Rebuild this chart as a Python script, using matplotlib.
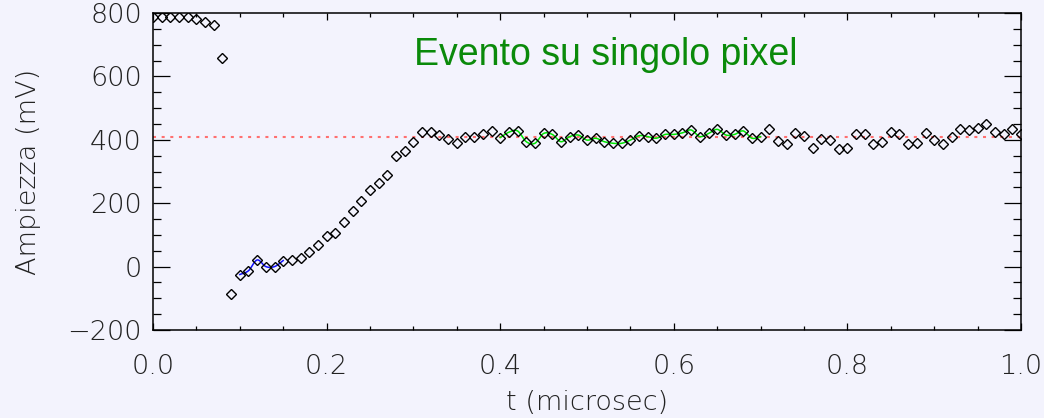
import numpy as np
import matplotlib
matplotlib.use("Agg")
import matplotlib.pyplot as plt
from matplotlib.ticker import MultipleLocator

# Sampling grid (microseconds) and measured amplitudes (mV)
dt = 0.01
amplitude = [
    787, 787, 787, 787, 787, 780, 773, 762, 657, -87,
    -25, -13, 21, 0, 0, 19, 21, 28, 47, 69,
    97, 107, 140, 175, 207, 243, 264, 288, 349, 365,
    394, 425, 425, 415, 401, 391, 410, 410, 418, 429,
    407, 424, 428, 394, 389, 420, 417, 394, 410, 415,
    399, 405, 394, 389, 389, 399, 413, 410, 405, 417,
    417, 422, 431, 410, 420, 433, 415, 417, 428, 405,
    410, 433, 397, 387, 420, 413, 373, 402, 399, 370,
    373, 418, 418, 387, 394, 425, 417, 387, 389, 420,
    399, 387, 410, 433, 431, 436, 450, 424, 417, 433,
    417,
]
t = np.round(np.arange(len(amplitude)) * dt, 2)
amplitude = np.array(amplitude, dtype=float)

baseline_level = 410          # plateau level (mV)
blue_range = (10, 15)         # sample indices of the baseline segment
green_range = (40, 70)        # sample indices of the plateau segment

title_text = "Evento su singolo pixel"
xlabel_text = "t (microsec)"
ylabel_text = "Ampiezza (mV)"


def catmull_rom(x, y, n=12):
    """Smooth curve passing through the given samples."""
    x = np.asarray(x, float)
    y = np.asarray(y, float)
    xp = np.concatenate([[2 * x[0] - x[1]], x, [2 * x[-1] - x[-2]]])
    yp = np.concatenate([[2 * y[0] - y[1]], y, [2 * y[-1] - y[-2]]])
    xs, ys = [], []
    for i in range(1, len(xp) - 2):
        s = np.linspace(0, 1, n, endpoint=False)
        for arr, out in ((xp, xs), (yp, ys)):
            p0, p1, p2, p3 = arr[i - 1], arr[i], arr[i + 1], arr[i + 2]
            out.extend(0.5 * ((2 * p1) + (-p0 + p2) * s
                              + (2 * p0 - 5 * p1 + 4 * p2 - p3) * s ** 2
                              + (-p0 + 3 * p1 - 3 * p2 + p3) * s ** 3))
    xs.append(x[-1])
    ys.append(y[-1])
    return np.array(xs), np.array(ys)


bg = "#f3f3fd"
plt.rcParams["font.family"] = ["DejaVu Sans"]
fig = plt.figure(figsize=(10.44, 4.18), dpi=100, facecolor=bg)
ax = fig.add_axes([153 / 1044, 1 - 330 / 418, 868 / 1044, 317 / 418])
ax.set_facecolor(bg)

ax.set_xlim(0.0, 1.0)
ax.set_ylim(-200, 800)

# plateau reference
ax.axhline(baseline_level, color="#ff7070", lw=1.5, ls=(0, (1.45, 2.7)), zorder=1)

# smoothed segments
for (i0, i1), col in ((blue_range, "#1010ff"), (green_range, "#00e600")):
    sx, sy = catmull_rom(t[i0:i1 + 1], amplitude[i0:i1 + 1])
    ax.plot(sx, sy, color=col, lw=1.1, zorder=2)

ax.plot(t, amplitude, ls="none", marker="D", ms=5.0, mfc="none",
        mec="black", mew=1.0, zorder=3)

# ticks
ax.xaxis.set_major_locator(MultipleLocator(0.2))
ax.xaxis.set_minor_locator(MultipleLocator(0.05))
ax.yaxis.set_major_locator(MultipleLocator(200))
ax.yaxis.set_minor_locator(MultipleLocator(50))
ax.xaxis.set_major_formatter(plt.FuncFormatter(lambda v, p: f"{v:.1f}"))
ax.yaxis.set_major_formatter(plt.FuncFormatter(lambda v, p: f"{v:.0f}".replace("-", "\u2212")))

tick_font = dict(family="DejaVu Sans", weight="light", size=19.5)
ax.tick_params(which="both", direction="in", top=True, right=True,
               color="black", width=0.9)
ax.tick_params(axis="x", which="major", length=5.0, pad=17.5)
ax.tick_params(axis="x", which="minor", length=2.8)
ax.tick_params(axis="y", which="major", length=12.2, pad=8)
ax.tick_params(axis="y", which="minor", length=6.1)
for lab in ax.get_xticklabels() + ax.get_yticklabels():
    lab.set_fontproperties(matplotlib.font_manager.FontProperties(**tick_font))
    lab.set_color("#222222")

for sp in ax.spines.values():
    sp.set_linewidth(1.1)
    sp.set_color("black")

ax.set_xlabel(xlabel_text, color="#222222", **tick_font)
ax.xaxis.label.set_va("center")
ax.xaxis.set_label_coords(0.5, -(403 - 330) / 317)
ax.set_ylabel(ylabel_text, color="#222222", **tick_font)
ax.yaxis.label.set_va("center")
ax.yaxis.set_label_coords((29 - 153) / 868, 0.5)

ax.text((606 - 153) / 868, (330 - 65) / 317, title_text, transform=ax.transAxes,
        ha="center", va="baseline", color="#0a8a0a",
        family="Liberation Sans", fontsize=27)

fig.savefig("out.png", dpi=100, facecolor=bg)
